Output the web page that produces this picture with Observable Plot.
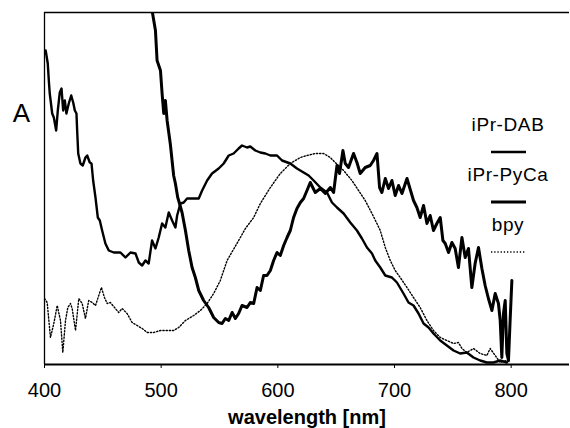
<!DOCTYPE html>
<html><head><meta charset="utf-8">
<script src="https://cdn.jsdelivr.net/npm/d3@7"></script>
<script src="https://cdn.jsdelivr.net/npm/@observablehq/plot@0.6"></script>
<style>
html,body{margin:0;padding:0;background:#fff;}
#wrap{position:relative;width:570px;height:428px;font-family:"Liberation Sans",Arial,Helvetica,sans-serif;}
.legtext{position:absolute;font-size:19px;line-height:22px;color:#000;white-space:nowrap;transform:translateX(-50%);letter-spacing:0.6px;}
.legline{position:absolute;}
</style></head><body><div id="wrap"></div>
<script>
// ---- data (absorbance in arbitrary units) ----
const seriesNames = ["iPr-DAB", "iPr-PyCa", "bpy"];
const xTicks = [400, 500, 600, 700, 800];
const xLabel = "wavelength [nm]";
const yLabel = "A";

const dabWl = [401,402.8,403.7,404.5,406.6,408,410,411.4,413.1,414.6,416,417.4,418.8,420.8,422.9,424.6,426,427.4,428,428.9,430.8,432.8,435.1,436.6,438.8,440.3,441.7,443.7,445.7,447.4,449.4,452.2,455.1,459.4,465.1,469.4,473.7,478,480.8,483.7,486.5,489.3,492.2,495.1,497.9,500.8,503.6,506.5,509.4,512.2,513.7,516.5,519.3,522.2,527.9,532.2,535.1,539.4,543.6,549.3,553.6,557.9,562.1,566.4,569.3,573.6,576.4,580.7,585,589.3,593.6,599.3,603.6,610.7,616.4,622.1,626.4,630.7,636.4,642.1,646.4,650.7,656.4,662.1,667.8,672.1,676.4,680.7,683.5,687.8,692.1,697.8,702.1,707.7,712,716.3,720.6,724.9,729.2,733.4,739.2,744.9,750.6,756.3,762,767.7,773.4,779.2,784.8,790.6,796.3];
const dabA = [1.57,1.505,1.42,1.355,1.255,1.235,1.17,1.27,1.36,1.38,1.27,1.32,1.255,1.305,1.345,1.31,1.27,1.255,1.17,1.055,1.005,0.995,1.035,1.045,1.01,1.005,0.92,0.835,0.735,0.72,0.67,0.605,0.57,0.56,0.56,0.535,0.56,0.555,0.51,0.495,0.52,0.505,0.62,0.58,0.635,0.705,0.685,0.76,0.72,0.685,0.745,0.805,0.81,0.83,0.83,0.83,0.87,0.92,0.955,0.98,1.005,1.045,1.055,1.08,1.095,1.085,1.09,1.07,1.06,1.055,1.045,1.045,1.02,1.005,0.98,0.96,0.945,0.92,0.885,0.86,0.81,0.785,0.755,0.71,0.67,0.63,0.585,0.555,0.52,0.485,0.445,0.435,0.41,0.355,0.31,0.295,0.255,0.205,0.185,0.155,0.12,0.095,0.07,0.055,0.06,0.035,0.02,0.01,0.01,0.02,0.01];

const pycaWl = [490.5,492.5,495.1,496.5,499.4,500.8,502.2,503.6,505.1,507.9,510.7,512.2,514.2,515,517.9,520.8,523.6,526.5,529.3,532.2,536.4,540.7,545,549.3,552.2,555,557.9,560.8,563.6,566.4,569.3,573.6,576.4,579.3,582.2,585,587.8,590.7,593.6,596.4,599.3,602.1,605,607.9,610.7,613.5,616.4,619.3,622.1,625,627.8,632.1,636.4,640.7,645,647.8,650.7,652.9,655.8,657.8,660.6,664.9,667.8,670.6,674.9,679.2,682,685,687.2,689.2,692.1,694.9,697.8,700.6,703.5,706.4,710.7,716.3,719.2,722,724.9,727.8,730.6,733.4,736.3,739.2,741.5,743.5,746.3,749.2,752,754.8,757.8,760.6,763.4,766.3,769.1,772,774.9,777.7,780.5,783.5,786.3,789.1,790.6,792,793.4,794.9,796.3,797.7,799.1,800.6];
const pycaA = [1.86,1.76,1.67,1.52,1.47,1.355,1.255,1.32,1.22,1.1,0.945,0.905,0.835,0.82,0.76,0.67,0.57,0.485,0.435,0.37,0.32,0.285,0.235,0.21,0.205,0.23,0.22,0.26,0.23,0.255,0.295,0.285,0.31,0.305,0.385,0.37,0.445,0.445,0.47,0.52,0.56,0.545,0.595,0.635,0.67,0.735,0.78,0.81,0.83,0.87,0.91,0.86,0.88,0.855,0.885,0.86,0.995,0.955,1.07,1.005,0.985,1.055,1.01,0.955,0.985,0.995,1.02,1.055,0.885,0.86,0.93,0.88,0.92,0.845,0.895,0.855,0.93,0.82,0.785,0.735,0.795,0.705,0.745,0.67,0.705,0.735,0.62,0.605,0.56,0.61,0.58,0.485,0.635,0.535,0.58,0.385,0.505,0.585,0.48,0.395,0.33,0.27,0.355,0.305,0.22,0.035,0.255,0.32,0.055,0.02,0.22,0.42];

const bpyWl = [400,402.3,405.1,408,410.9,413.7,415.7,418,420,422.3,423.7,426.6,429.4,432.3,435.1,437.9,440.9,443.7,446.5,448.8,451.4,453.7,456.5,460,463.6,466.5,470.8,475.1,479.4,483.7,488,493.6,499.4,505.1,510.7,515,520.8,527.9,533.6,539.4,545,550.7,556.5,566.4,572.2,579.3,585,593.6,602.1,610.7,619.3,625,632.1,639.2,645,649.2,656.4,663.5,669.2,674.9,680.7,684.9,687.8,692.1,696.4,700.6,704.9,710.7,716.3,722,727.8,733.4,739.2,744.9,750.6,754.8,757.8,762,767.7,773.4,779.2,782,786.3,790.6,796.3,799.1];
const bpyA = [0.33,0.31,0.135,0.205,0.295,0.22,0.06,0.22,0.285,0.305,0.28,0.17,0.33,0.305,0.23,0.32,0.31,0.295,0.345,0.385,0.335,0.305,0.31,0.285,0.26,0.28,0.255,0.21,0.195,0.18,0.16,0.16,0.17,0.17,0.17,0.185,0.22,0.245,0.27,0.305,0.355,0.42,0.52,0.62,0.68,0.735,0.805,0.885,0.955,1.005,1.035,1.045,1.055,1.055,1.035,1.01,0.97,0.92,0.87,0.82,0.755,0.705,0.67,0.585,0.52,0.47,0.435,0.385,0.335,0.285,0.22,0.17,0.135,0.12,0.105,0.11,0.08,0.06,0.08,0.055,0.045,0.08,0.045,0.01,0.02,0.01];

const yMax = 1.76;
const xDomain = [400, 850];

const toRows = (wl, a, s) => wl.map((w, i) => ({wl: w, A: a[i], series: s}));
const dab = toRows(dabWl, dabA, seriesNames[0]);
const pyca = toRows(pycaWl, pycaA, seriesNames[1]);
const bpy = toRows(bpyWl, bpyA, seriesNames[2]);

const styles = {
  "iPr-DAB": {stroke: "#000", strokeWidth: 2.4, dash: null},
  "iPr-PyCa": {stroke: "#000", strokeWidth: 3, dash: null},
  "bpy": {stroke: "#000", strokeWidth: 1.4, dash: "1.3,1.9"}
};

const font = '"Liberation Sans", Arial, Helvetica, sans-serif';

const chart = Plot.plot({
  width: 570,
  height: 428,
  marginLeft: 44,
  marginTop: 12,
  marginRight: 1,
  marginBottom: 64,
  style: {fontFamily: font, background: "#fff", color: "#000", overflow: "visible"},
  x: {domain: xDomain},
  y: {domain: [0, yMax]},
  marks: [
    Plot.line(bpy, {x: "wl", y: "A", stroke: "#000", strokeWidth: styles.bpy.strokeWidth, strokeDasharray: styles.bpy.dash, clip: true}),
    Plot.line(dab, {x: "wl", y: "A", stroke: "#000", strokeWidth: styles["iPr-DAB"].strokeWidth, strokeLinejoin: "round", clip: true}),
    Plot.line(pyca, {x: "wl", y: "A", stroke: "#000", strokeWidth: styles["iPr-PyCa"].strokeWidth, strokeLinejoin: "round", clip: true}),
    Plot.ruleY([yMax], {stroke: "#000", strokeWidth: 1.6}),
    Plot.ruleY([0], {stroke: "#000", strokeWidth: 2}),
    Plot.ruleX([xDomain[0]], {stroke: "#000", strokeWidth: 1.3}),
    Plot.axisX({ticks: xTicks, tickSize: 4, tickPadding: 14, fontSize: 20, label: null, tickFormat: d => String(d)}),
    Plot.axisY({ticks: [], label: null, tickSize: 0}),
    Plot.text([xLabel], {frameAnchor: "bottom", lineAnchor: "top", dy: 45, dx: 0, fontSize: 20, fontWeight: "bold", fill: "#000"}),
    Plot.text([yLabel], {frameAnchor: "top-left", lineAnchor: "top", textAnchor: "middle", dx: -23, dy: 91, fontSize: 26, fill: "#000"})
  ]
});

const wrap = document.getElementById("wrap");
wrap.appendChild(chart);

// legend (HTML overlay)
seriesNames.forEach((name, i) => {
  const t = document.createElement("div");
  t.className = "legtext";
  t.textContent = name;
  t.style.left = "508px";
  t.style.top = (114 + 50 * i) + "px";
  wrap.appendChild(t);
  const st = styles[name];
  const svg = d3.create("svg").attr("class", "legline").attr("width", 40).attr("height", 8)
    .style("left", "489px").style("top", (148 + 50 * i) + "px");
  svg.append("line").attr("x1", 2).attr("x2", 37).attr("y1", 4).attr("y2", 4)
    .attr("stroke", st.stroke).attr("stroke-width", st.strokeWidth)
    .attr("stroke-dasharray", st.dash);
  wrap.appendChild(svg.node());
});
</script></body></html>
